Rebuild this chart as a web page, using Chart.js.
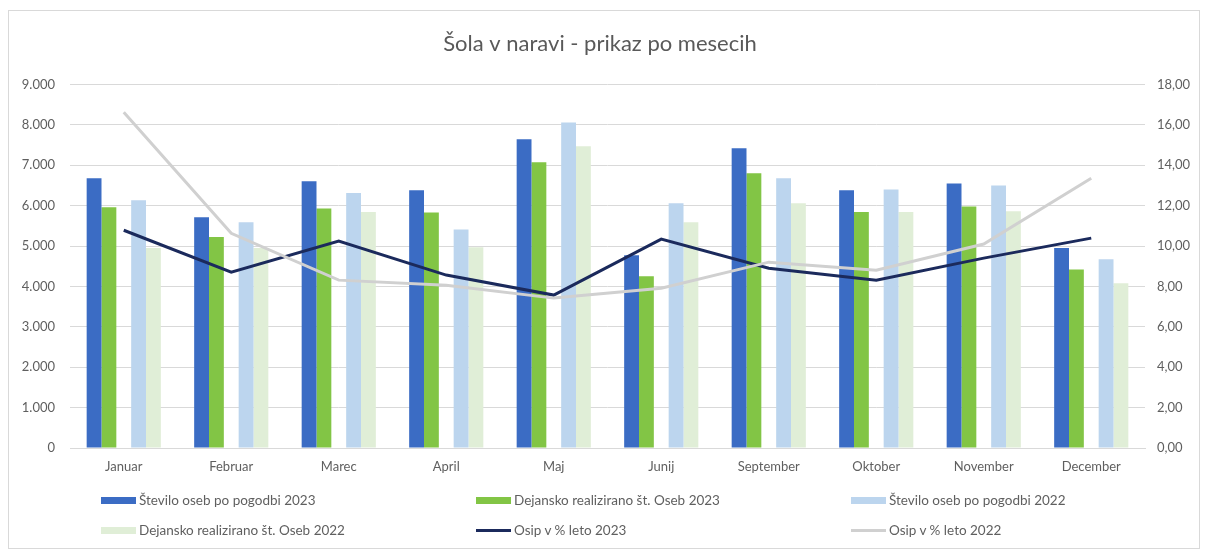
<!DOCTYPE html>
<html>
<head>
<meta charset="utf-8">
<script src="https://cdn.jsdelivr.net/npm/chart.js@4.4.1/dist/chart.umd.min.js"></script>
<style>
  html, body { margin: 0; padding: 0; background: #fff; }
  #wrap { position: relative; width: 1206px; height: 554px; }
  #frame { position: absolute; left: 8px; top: 10px; width: 1190px; height: 537px; border: 1px solid #d9d9d9; pointer-events: none; }
  #legend { position: absolute; left: 0; top: 0; width: 1206px; height: 554px; pointer-events: none;
            font-family: Lato, "Open Sans", sans-serif; font-size: 13.5px; color: #5f5f5f; }
  .item { position: absolute; display: flex; align-items: center; white-space: nowrap; }
  .sw { width: 35px; margin-right: 3px; }
</style>
</head>
<body>
<div id="wrap">
  <canvas id="solaChart" width="1206" height="554"></canvas>
  <div id="frame"></div>
  <div id="legend"></div>
</div>
<script>
const months = ['Januar', 'Februar', 'Marec', 'April', 'Maj', 'Junij', 'September', 'Oktober', 'November', 'December'];

const pogodba2023 = [6680, 5710, 6600, 6380, 7640, 4770, 7420, 6380, 6550, 4950];
const realizirano2023 = [5960, 5220, 5930, 5830, 7070, 4250, 6800, 5840, 5980, 4420];
const pogodba2022 = [6130, 5590, 6310, 5410, 8060, 6060, 6680, 6400, 6500, 4670];
const realizirano2022 = [4950, 4950, 5840, 4970, 7470, 5590, 6060, 5840, 5860, 4080];
const osip2023 = [10.78, 8.70, 10.24, 8.56, 7.57, 10.34, 8.90, 8.31, 9.40, 10.39];
const osip2022 = [16.62, 10.63, 8.31, 8.06, 7.42, 7.91, 9.20, 8.80, 10.10, 13.35];

const textColor = '#5f5f5f';
const gridColor = '#d9d9d9';
const baseFont = 'Lato, "Open Sans", sans-serif';

const ctx = document.getElementById('solaChart').getContext('2d');

const chart = new Chart(ctx, {
    type: 'bar',
    data: {
        labels: months,
        datasets: [{
            type: 'line',
            label: 'Osip v % leto 2022',
            data: osip2022,
            borderColor: '#d0d0d0',
            borderWidth: 3,
            pointRadius: 0,
            yAxisID: 'y2',
            order: 0
        }, {
            type: 'line',
            label: 'Osip v % leto 2023',
            data: osip2023,
            borderColor: '#1b2a5c',
            borderWidth: 3,
            pointRadius: 0,
            yAxisID: 'y2',
            order: 1
        }, {
            label: 'Število oseb po pogodbi 2023',
            data: pogodba2023,
            backgroundColor: '#3b6cc4',
            order: 2
        }, {
            label: 'Dejansko realizirano št. Oseb 2023',
            data: realizirano2023,
            backgroundColor: '#82c545',
            order: 2
        }, {
            // empty slot, keeps the gap between the 2023 and 2022 bars
            label: '',
            data: months.map(() => null),
            backgroundColor: 'rgba(0,0,0,0)',
            order: 2
        }, {
            label: 'Število oseb po pogodbi 2022',
            data: pogodba2022,
            backgroundColor: '#bcd5ee',
            order: 2
        }, {
            label: 'Dejansko realizirano št. Oseb 2022',
            data: realizirano2022,
            backgroundColor: '#e0eed7',
            order: 2
        }]
    },
    options: {
        responsive: false,
        animation: false,
        datasets: {
            bar: { barPercentage: 1, categoryPercentage: 0.69 }
        },
        layout: {
            padding: { left: 10, right: 16, top: 0, bottom: 66 }
        },
        plugins: {
            legend: { display: false },
            tooltip: { enabled: false },
            title: {
                display: true,
                text: 'Šola v naravi - prikaz po mesecih',
                color: '#595959',
                font: { family: baseFont, size: 22, weight: 'normal' },
                padding: { top: 31, bottom: 27 }
            }
        },
        scales: {
            x: {
                grid: { display: false, drawTicks: false },
                border: { display: true, color: gridColor },
                ticks: { color: textColor, padding: 11, font: { family: baseFont, size: 13 } },
                afterFit: function(s) { s.height = 40; }
            },
            y: {
                position: 'left',
                min: 0,
                max: 9000,
                grid: { color: gridColor, drawTicks: false },
                border: { display: false },
                ticks: {
                    stepSize: 1000,
                    padding: 15,
                    color: textColor,
                    font: { family: baseFont, size: 13 },
                    callback: v => v === 0 ? '0' : v.toLocaleString('de-DE')
                },
                afterFit: function(s) { s.width = 60; }
            },
            y2: {
                position: 'right',
                min: 0,
                max: 18,
                grid: { drawOnChartArea: false, drawTicks: false },
                border: { display: false },
                ticks: {
                    stepSize: 2,
                    padding: 12,
                    color: textColor,
                    font: { family: baseFont, size: 13 },
                    callback: v => v.toFixed(2).replace('.', ',')
                },
                afterFit: function(s) { s.width = 45; }
            }
        }
    }
});

// legend in three columns, same order as the original
const legendOrder = [
    'Število oseb po pogodbi 2023',
    'Dejansko realizirano št. Oseb 2023',
    'Število oseb po pogodbi 2022',
    'Dejansko realizirano št. Oseb 2022',
    'Osip v % leto 2023',
    'Osip v % leto 2022'
];
const colX = [101, 476, 851];
const rowY = [500, 530];
const legendEl = document.getElementById('legend');
legendOrder.forEach(function(name, i) {
    const ds = chart.data.datasets.find(d => d.label === name);
    const isLine = ds.type === 'line';
    const item = document.createElement('div');
    item.className = 'item';
    item.style.left = colX[i % 3] + 'px';
    item.style.top = (rowY[Math.floor(i / 3)] - 9) + 'px';
    item.style.height = '18px';
    const sw = document.createElement('span');
    sw.className = 'sw';
    sw.style.height = isLine ? '3px' : '7px';
    sw.style.background = isLine ? ds.borderColor : ds.backgroundColor;
    const txt = document.createElement('span');
    txt.textContent = name;
    item.appendChild(sw);
    item.appendChild(txt);
    legendEl.appendChild(item);
});
</script>
</body>
</html>
